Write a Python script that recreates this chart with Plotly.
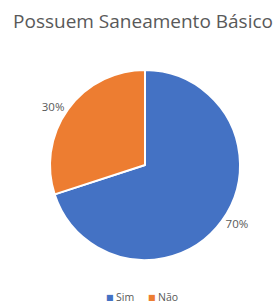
import plotly.graph_objects as go

labels = ["Sim", "Não"]
values = [70, 30]
colors = ["#4472C4", "#ED7D31"]
legend_x = [110, 152]  # pixel positions of legend markers

W, H = 280, 304
fig = go.Figure(go.Pie(
    labels=labels, values=values, sort=False, direction="clockwise", rotation=0,
    marker=dict(colors=colors, line=dict(color="white", width=2)),
    textinfo="percent", textposition="outside",
    texttemplate="%{percent:.0%}",
    textfont=dict(size=11.5, color="#595959", family="Open Sans"),
    domain=dict(x=[50/W, 240/W], y=[1-260/H, 1-70/H]),
    showlegend=False,
))
for lab, col, lx in zip(labels, colors, legend_x):
    fig.add_annotation(text="■", x=lx/W, xanchor="center", y=1-297/H, yanchor="middle",
                       xref="paper", yref="paper", showarrow=False,
                       font=dict(size=8, color=col, family="DejaVu Sans"))
    fig.add_annotation(text=lab, x=(lx+4)/W, xanchor="left", y=1-297/H, yanchor="middle",
                       xref="paper", yref="paper", showarrow=False,
                       font=dict(size=10.5, color="#595959", family="Open Sans"))
fig.update_layout(
    width=W, height=H, margin=dict(l=0, r=0, t=0, b=0),
    paper_bgcolor="white", plot_bgcolor="white",
    title=dict(text="Possuem Saneamento Básico", x=143/W, xanchor="center",
               y=1-21/H, yanchor="middle", yref="container",
               font=dict(size=19, color="#595959", family="Open Sans")),
)
fig.write_html("out.html", post_script="document.body.style.margin='0';",
               config={"displayModeBar": False})
